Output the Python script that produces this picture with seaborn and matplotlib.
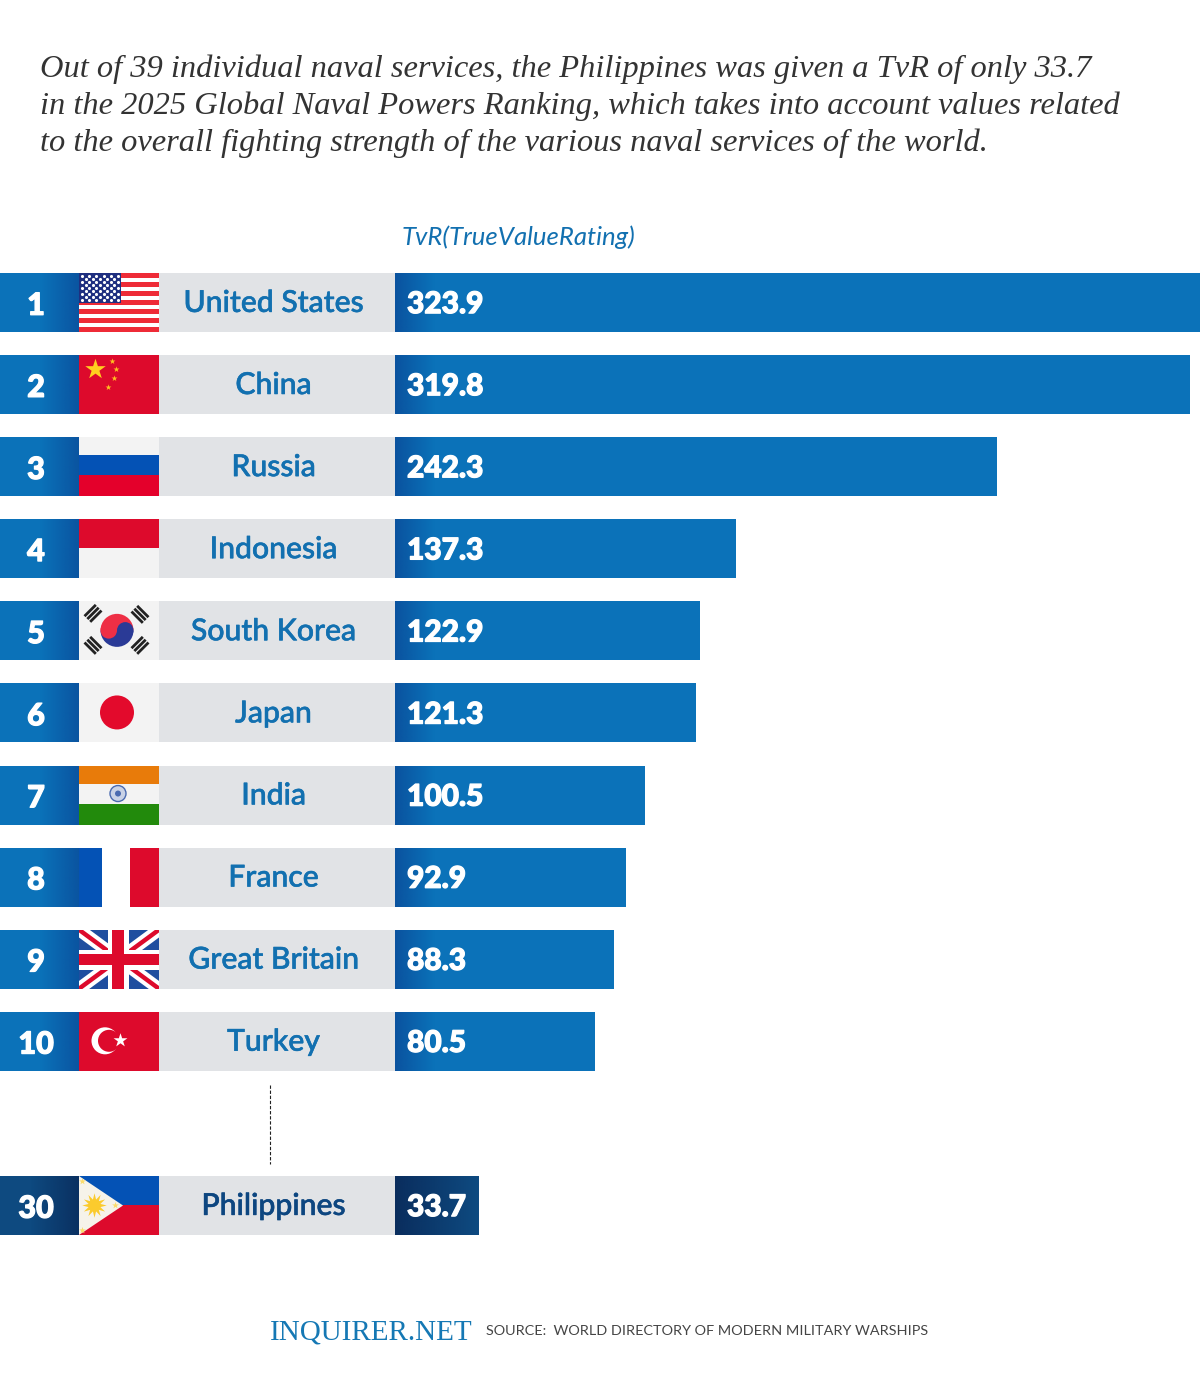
import numpy as np
import pandas as pd
import matplotlib
matplotlib.use("Agg")
import matplotlib.pyplot as plt
import matplotlib.patheffects as pe
from matplotlib.colors import to_rgb
from matplotlib.patches import Circle, Polygon, Rectangle, Wedge
import seaborn as sns

# chart values
ranks = ["1", "2", "3", "4", "5", "6", "7", "8", "9", "10", "30"]
countries = ["United States", "China", "Russia", "Indonesia", "South Korea", "Japan",
             "India", "France", "Great Britain", "Turkey", "Philippines"]
tvr = [323.9, 319.8, 242.3, 137.3, 122.9, 121.3, 100.5, 92.9, 88.3, 80.5, 33.7]
groups = ["top"] * 10 + ["ph"]
# empty slot between the top ten and the Philippines
row_order = countries[:10] + [" "] + countries[10:]

title_lines = [
    "Out of 39 individual naval services, the Philippines was given a TvR of only 33.7",
    "in the 2025 Global Naval Powers Ranking, which takes into account values related",
    "to the overall fighting strength of the various naval services of the world.",
]

W, H = 1200, 1394
ROW0, ROW_STEP = 302.5, 82.09
BLUE, NAVY = "#0b72b9", "#0e4a80"
BLUE_DARK, NAVY_DARK = "#0a4f9c", "#0a2c5c"
GREY = "#e1e3e6"
RED, FBLUE, OFFWHITE = "#dd0a2c", "#0452b5", "#f3f3f3"
BAR_H = 59 / ROW_STEP

sns.set_theme(style="white")
plt.rcParams["font.family"] = ["Lato", "DejaVu Sans"]


def px_axes(fig, left, top, width, height, **kw):
    return fig.add_axes([left / W, 1 - (top + height) / H, width / W, height / H], **kw)


def shade(ax, x0, x1, y, color, a0, a1):
    # horizontal fade of one dark colour on top of a bar
    img = np.zeros((1, 64, 4))
    img[..., :3] = to_rgb(color)
    img[..., 3] = np.linspace(a0, a1, 64)
    ax.imshow(img, extent=[x0, x1, y + BAR_H / 2, y - BAR_H / 2], aspect="auto",
              zorder=3, interpolation="bilinear")


def stripes(ax, bands):
    for y0, y1, c in bands:
        ax.add_patch(Rectangle((0, y0), 80, y1 - y0, color=c, lw=0))


def flag_us(ax):
    for i in range(13):
        c = "#ee2b37" if i % 2 == 0 else "white"
        ax.add_patch(Rectangle((0, i * 59 / 13), 80, 59 / 13, color=c, lw=0))
    ax.add_patch(Rectangle((0, 0), 42, 30, color="#1f2f80", lw=0, zorder=2))
    for r in range(9):
        n = 6 if r % 2 == 0 else 5
        off = 3.5 if r % 2 == 0 else 7
        xs = [off + 7 * k for k in range(n)]
        ax.scatter(xs, [2.5 + r * 3.1] * n, s=5, color="white", lw=0, zorder=3)


def flag_china(ax):
    stripes(ax, [(0, 59, RED)])
    ax.scatter([16], [14], marker="*", s=240, color="#ffd01f", lw=0)
    ax.scatter([33, 37, 35, 29], [6, 14, 23, 32], marker="*", s=20, color="#ffc21f", lw=0)


def flag_russia(ax):
    stripes(ax, [(0, 18, OFFWHITE), (18, 38, FBLUE), (38, 59, "#e4002b")])


def flag_indonesia(ax):
    stripes(ax, [(0, 29, RED), (29, 59, OFFWHITE)])


def flag_korea(ax):
    stripes(ax, [(0, 59, OFFWHITE)])
    cx, cy, r = 38, 29, 16.5
    ax.add_patch(Wedge((cx, cy), r, 180, 360, color="#ee2f45", lw=0))
    ax.add_patch(Wedge((cx, cy), r, 0, 180, color="#2a3a96", lw=0))
    ax.add_patch(Circle((cx - r / 2, cy), r / 2, color="#ee2f45", lw=0))
    ax.add_patch(Circle((cx + r / 2, cy), r / 2, color="#2a3a96", lw=0))
    for tx, ty, ang in [(14, 12, -45), (61, 13, 45), (14, 44, 45), (61, 44, -45)]:
        a = np.deg2rad(ang)
        d = np.array([np.cos(a), np.sin(a)])
        n = np.array([-d[1], d[0]])
        for k in (-4, 0, 4):
            p = np.array([tx, ty]) + k * n
            ax.plot(*zip(p - 8 * d, p + 8 * d), color="#222222", lw=2, solid_capstyle="butt")


def flag_japan(ax):
    stripes(ax, [(0, 59, OFFWHITE)])
    ax.add_patch(Circle((38, 29), 17, color="#e30a2c", lw=0))


def flag_india(ax):
    stripes(ax, [(0, 18, "#e87b0a"), (18, 38, OFFWHITE), (38, 59, "#228a0c")])
    ax.add_patch(Circle((39, 28), 8, fc="#c9d2e6", ec="#4a6ab0", lw=1))
    ax.add_patch(Circle((39, 28), 3, color="#4a6ab0", lw=0))


def flag_france(ax):
    stripes(ax, [(0, 59, "white")])
    ax.add_patch(Rectangle((0, 0), 23, 59, color=FBLUE, lw=0))
    ax.add_patch(Rectangle((51, 0), 29, 59, color=RED, lw=0))


def flag_uk(ax):
    stripes(ax, [(0, 59, "#1f4e9f")])
    for a, b in [((0, 0), (80, 59)), ((0, 59), (80, 0))]:
        ax.plot(*zip(a, b), color="white", lw=9, solid_capstyle="butt")
        ax.plot(*zip(a, b), color=RED, lw=3.2, solid_capstyle="butt")
    ax.add_patch(Rectangle((29, 0), 21, 59, color="white", lw=0, zorder=3))
    ax.add_patch(Rectangle((0, 20), 80, 20, color="white", lw=0, zorder=3))
    ax.add_patch(Rectangle((33, 0), 12, 59, color=RED, lw=0, zorder=4))
    ax.add_patch(Rectangle((0, 24), 80, 11, color=RED, lw=0, zorder=4))


def flag_turkey(ax):
    stripes(ax, [(0, 59, RED)])
    ax.add_patch(Circle((26, 29), 13.5, color="white", lw=0))
    ax.add_patch(Circle((30, 29), 11, color=RED, lw=0))
    ax.scatter([41], [28], marker="*", s=110, color="white", lw=0, zorder=3)


def flag_ph(ax):
    stripes(ax, [(0, 29.5, FBLUE), (29.5, 59, RED)])
    ax.add_patch(Polygon([(0, 0), (44, 29.5), (0, 59)], color="#f6f3ea", lw=0, zorder=2))
    ax.scatter([15], [29], marker=(12, 1, 0), s=310, color="#fbcb2d", lw=0, zorder=3)
    ax.scatter([3, 3, 36], [5, 54, 29], marker="*", s=26, color="#fbdc6a", lw=0, zorder=3)


flags = [flag_us, flag_china, flag_russia, flag_indonesia, flag_korea, flag_japan,
         flag_india, flag_france, flag_uk, flag_turkey, flag_ph]

df = pd.DataFrame({"country": countries, "tvr": tvr, "group": groups})
fig = plt.figure(figsize=(W / 100, H / 100), dpi=100, facecolor="white")

y_top = ROW0 - ROW_STEP / 2
y_span = ROW_STEP * len(row_order)
ylim = (len(row_order) - 0.5, -0.5)
row_pos = [row_order.index(c) for c in countries]

# the installed Lato looks thin here, a small stroke brings the weight up
thick = [pe.withStroke(linewidth=0.9, foreground="white")]

# left part: rank block and grey name plate, in pixels across
ax_left = px_axes(fig, 0, y_top, 395, y_span)
ax_left.barh(row_pos, 79, height=BAR_H,
             color=[NAVY if g == "ph" else BLUE for g in groups], lw=0)
ax_left.barh(row_pos, 236, left=159, height=BAR_H, color=GREY, lw=0)
for r, g, pos, name in zip(ranks, groups, row_pos, countries):
    if g == "ph":
        shade(ax_left, 30, 79, pos, NAVY_DARK, 0, 0.85)
    else:
        shade(ax_left, 40, 79, pos, BLUE_DARK, 0, 0.85)
    ax_left.text(36, pos + 0.04, r, color="white", fontsize=22, fontweight=900,
                 ha="center", va="center", zorder=4, path_effects=thick)
    name_color = "#0d4680" if g == "ph" else "#1270b0"
    ax_left.text(273.5, pos + 0.005, name, color=name_color, fontsize=21.7, fontweight="medium",
                 ha="center", va="center",
                 path_effects=[pe.withStroke(linewidth=0.4, foreground=name_color)])
ax_left.vlines(270, 10 - 0.47, 10 + 0.49, color="#222222", lw=0.8, linestyle=(0, (3, 1.6)))
ax_left.set_xlim(0, 395)
ax_left.set_ylim(*ylim)
ax_left.axis("off")

# the bars
ax = px_axes(fig, 395, y_top, 805, y_span)
sns.barplot(data=df, x="tvr", y="country", order=row_order, hue="group",
            palette={"top": BLUE, "ph": NAVY}, dodge=False, width=BAR_H, saturation=1,
            legend=False, linewidth=0, ax=ax)
for v, g, pos in zip(tvr, groups, row_pos):
    if g == "ph":
        shade(ax, 0, v, pos, NAVY_DARK, 0.95, 0)
    else:
        shade(ax, 0, 16, pos, BLUE_DARK, 0.9, 0)
    ax.annotate(f"{v:.1f}", xy=(0, pos + 0.02), xytext=(12, 0), textcoords="offset pixels",
                color="white", fontsize=21.5, fontweight=900, ha="left", va="center", zorder=5,
                path_effects=thick)
ax.set_xlim(0, 323.9)
ax.set_ylim(*ylim)
ax.axis("off")

# flags
for pos, draw in zip(row_pos, flags):
    top = ROW0 + ROW_STEP * pos - 29.5
    fa = px_axes(fig, 79, top, 80, 59)
    draw(fa)
    fa.set_xlim(0, 80)
    fa.set_ylim(59, 0)
    fa.axis("off")

# title, axis caption, footer
for line, yy in zip(title_lines, [69, 106, 143]):
    fig.text(40 / W, 1 - yy / H, line, family="Liberation Serif", style="italic",
             fontsize=23.4, color="#333333", ha="left", va="center")
fig.text(402 / W, 1 - 237 / H, "TvR(TrueValueRating)", style="italic", fontsize=18.5,
         color="#1270b0", ha="left", va="center")
fig.text(270 / W, 1 - 1332 / H, "INQUIRER.NET", family="Liberation Serif", fontsize=21,
         color="#1578b4", ha="left", va="center")
fig.text(486 / W, 1 - 1331 / H, "SOURCE:  WORLD DIRECTORY OF MODERN MILITARY WARSHIPS",
         fontsize=10.35, color="#444444", ha="left", va="center")

fig.savefig("out.png", dpi=100, facecolor="white")
plt.close(fig)
